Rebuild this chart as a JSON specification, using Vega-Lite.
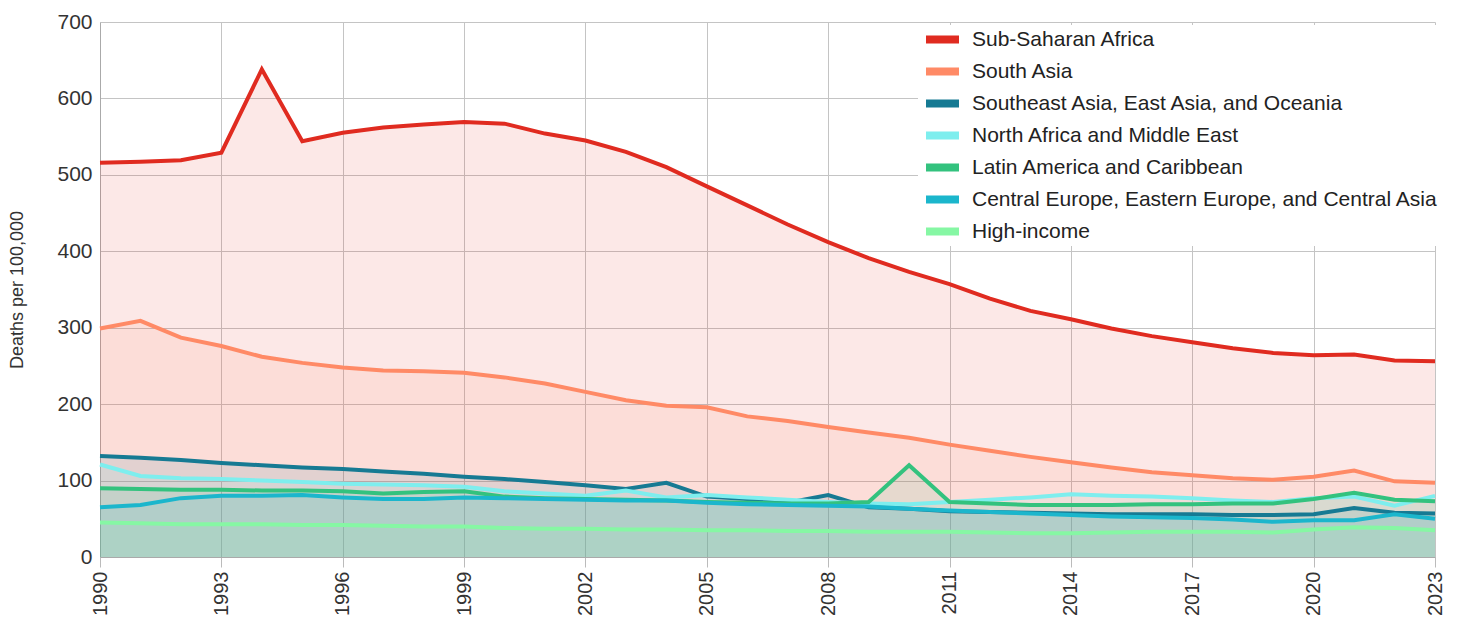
{
  "$schema": "https://vega.github.io/schema/vega-lite/v6.json",
  "width": 1335,
  "height": 535,
  "autosize": {"type": "none"},
  "padding": {"left": 100, "top": 22, "right": 22, "bottom": 63},
  "background": "white",
  "config": {"font": "Liberation Sans", "view": {"stroke": null}},
  "data": {"values": [
    {"year":1990,"region":"Sub-Saharan Africa","value":516},{"year":1991,"region":"Sub-Saharan Africa","value":517},{"year":1992,"region":"Sub-Saharan Africa","value":519},{"year":1993,"region":"Sub-Saharan Africa","value":529},{"year":1994,"region":"Sub-Saharan Africa","value":638},{"year":1995,"region":"Sub-Saharan Africa","value":544},{"year":1996,"region":"Sub-Saharan Africa","value":555},{"year":1997,"region":"Sub-Saharan Africa","value":562},{"year":1998,"region":"Sub-Saharan Africa","value":566},{"year":1999,"region":"Sub-Saharan Africa","value":569},{"year":2000,"region":"Sub-Saharan Africa","value":567},{"year":2001,"region":"Sub-Saharan Africa","value":554},{"year":2002,"region":"Sub-Saharan Africa","value":545},{"year":2003,"region":"Sub-Saharan Africa","value":530},{"year":2004,"region":"Sub-Saharan Africa","value":510},{"year":2005,"region":"Sub-Saharan Africa","value":485},{"year":2006,"region":"Sub-Saharan Africa","value":460},{"year":2007,"region":"Sub-Saharan Africa","value":435},{"year":2008,"region":"Sub-Saharan Africa","value":412},{"year":2009,"region":"Sub-Saharan Africa","value":391},{"year":2010,"region":"Sub-Saharan Africa","value":373},{"year":2011,"region":"Sub-Saharan Africa","value":357},{"year":2012,"region":"Sub-Saharan Africa","value":338},{"year":2013,"region":"Sub-Saharan Africa","value":322},{"year":2014,"region":"Sub-Saharan Africa","value":311},{"year":2015,"region":"Sub-Saharan Africa","value":299},{"year":2016,"region":"Sub-Saharan Africa","value":289},{"year":2017,"region":"Sub-Saharan Africa","value":281},{"year":2018,"region":"Sub-Saharan Africa","value":273},{"year":2019,"region":"Sub-Saharan Africa","value":267},{"year":2020,"region":"Sub-Saharan Africa","value":264},{"year":2021,"region":"Sub-Saharan Africa","value":265},{"year":2022,"region":"Sub-Saharan Africa","value":257},{"year":2023,"region":"Sub-Saharan Africa","value":256},
    {"year":1990,"region":"South Asia","value":299},{"year":1991,"region":"South Asia","value":309},{"year":1992,"region":"South Asia","value":287},{"year":1993,"region":"South Asia","value":276},{"year":1994,"region":"South Asia","value":262},{"year":1995,"region":"South Asia","value":254},{"year":1996,"region":"South Asia","value":248},{"year":1997,"region":"South Asia","value":244},{"year":1998,"region":"South Asia","value":243},{"year":1999,"region":"South Asia","value":241},{"year":2000,"region":"South Asia","value":235},{"year":2001,"region":"South Asia","value":227},{"year":2002,"region":"South Asia","value":216},{"year":2003,"region":"South Asia","value":205},{"year":2004,"region":"South Asia","value":198},{"year":2005,"region":"South Asia","value":196},{"year":2006,"region":"South Asia","value":184},{"year":2007,"region":"South Asia","value":178},{"year":2008,"region":"South Asia","value":170},{"year":2009,"region":"South Asia","value":163},{"year":2010,"region":"South Asia","value":156},{"year":2011,"region":"South Asia","value":147},{"year":2012,"region":"South Asia","value":139},{"year":2013,"region":"South Asia","value":131},{"year":2014,"region":"South Asia","value":124},{"year":2015,"region":"South Asia","value":117},{"year":2016,"region":"South Asia","value":111},{"year":2017,"region":"South Asia","value":107},{"year":2018,"region":"South Asia","value":103},{"year":2019,"region":"South Asia","value":101},{"year":2020,"region":"South Asia","value":105},{"year":2021,"region":"South Asia","value":113},{"year":2022,"region":"South Asia","value":99},{"year":2023,"region":"South Asia","value":97},
    {"year":1990,"region":"Southeast Asia, East Asia, and Oceania","value":132},{"year":1991,"region":"Southeast Asia, East Asia, and Oceania","value":130},{"year":1992,"region":"Southeast Asia, East Asia, and Oceania","value":127},{"year":1993,"region":"Southeast Asia, East Asia, and Oceania","value":123},{"year":1994,"region":"Southeast Asia, East Asia, and Oceania","value":120},{"year":1995,"region":"Southeast Asia, East Asia, and Oceania","value":117},{"year":1996,"region":"Southeast Asia, East Asia, and Oceania","value":115},{"year":1997,"region":"Southeast Asia, East Asia, and Oceania","value":112},{"year":1998,"region":"Southeast Asia, East Asia, and Oceania","value":109},{"year":1999,"region":"Southeast Asia, East Asia, and Oceania","value":105},{"year":2000,"region":"Southeast Asia, East Asia, and Oceania","value":102},{"year":2001,"region":"Southeast Asia, East Asia, and Oceania","value":98},{"year":2002,"region":"Southeast Asia, East Asia, and Oceania","value":94},{"year":2003,"region":"Southeast Asia, East Asia, and Oceania","value":89},{"year":2004,"region":"Southeast Asia, East Asia, and Oceania","value":97},{"year":2005,"region":"Southeast Asia, East Asia, and Oceania","value":79},{"year":2006,"region":"Southeast Asia, East Asia, and Oceania","value":76},{"year":2007,"region":"Southeast Asia, East Asia, and Oceania","value":71},{"year":2008,"region":"Southeast Asia, East Asia, and Oceania","value":81},{"year":2009,"region":"Southeast Asia, East Asia, and Oceania","value":65},{"year":2010,"region":"Southeast Asia, East Asia, and Oceania","value":63},{"year":2011,"region":"Southeast Asia, East Asia, and Oceania","value":60},{"year":2012,"region":"Southeast Asia, East Asia, and Oceania","value":59},{"year":2013,"region":"Southeast Asia, East Asia, and Oceania","value":58},{"year":2014,"region":"Southeast Asia, East Asia, and Oceania","value":57},{"year":2015,"region":"Southeast Asia, East Asia, and Oceania","value":56},{"year":2016,"region":"Southeast Asia, East Asia, and Oceania","value":56},{"year":2017,"region":"Southeast Asia, East Asia, and Oceania","value":56},{"year":2018,"region":"Southeast Asia, East Asia, and Oceania","value":55},{"year":2019,"region":"Southeast Asia, East Asia, and Oceania","value":55},{"year":2020,"region":"Southeast Asia, East Asia, and Oceania","value":56},{"year":2021,"region":"Southeast Asia, East Asia, and Oceania","value":64},{"year":2022,"region":"Southeast Asia, East Asia, and Oceania","value":58},{"year":2023,"region":"Southeast Asia, East Asia, and Oceania","value":57},
    {"year":1990,"region":"North Africa and Middle East","value":121},{"year":1991,"region":"North Africa and Middle East","value":106},{"year":1992,"region":"North Africa and Middle East","value":103},{"year":1993,"region":"North Africa and Middle East","value":102},{"year":1994,"region":"North Africa and Middle East","value":100},{"year":1995,"region":"North Africa and Middle East","value":98},{"year":1996,"region":"North Africa and Middle East","value":96},{"year":1997,"region":"North Africa and Middle East","value":95},{"year":1998,"region":"North Africa and Middle East","value":94},{"year":1999,"region":"North Africa and Middle East","value":92},{"year":2000,"region":"North Africa and Middle East","value":86},{"year":2001,"region":"North Africa and Middle East","value":83},{"year":2002,"region":"North Africa and Middle East","value":80},{"year":2003,"region":"North Africa and Middle East","value":87},{"year":2004,"region":"North Africa and Middle East","value":78},{"year":2005,"region":"North Africa and Middle East","value":81},{"year":2006,"region":"North Africa and Middle East","value":78},{"year":2007,"region":"North Africa and Middle East","value":75},{"year":2008,"region":"North Africa and Middle East","value":72},{"year":2009,"region":"North Africa and Middle East","value":70},{"year":2010,"region":"North Africa and Middle East","value":69},{"year":2011,"region":"North Africa and Middle East","value":72},{"year":2012,"region":"North Africa and Middle East","value":75},{"year":2013,"region":"North Africa and Middle East","value":78},{"year":2014,"region":"North Africa and Middle East","value":82},{"year":2015,"region":"North Africa and Middle East","value":80},{"year":2016,"region":"North Africa and Middle East","value":79},{"year":2017,"region":"North Africa and Middle East","value":77},{"year":2018,"region":"North Africa and Middle East","value":74},{"year":2019,"region":"North Africa and Middle East","value":72},{"year":2020,"region":"North Africa and Middle East","value":77},{"year":2021,"region":"North Africa and Middle East","value":79},{"year":2022,"region":"North Africa and Middle East","value":67},{"year":2023,"region":"North Africa and Middle East","value":80},
    {"year":1990,"region":"Latin America and Caribbean","value":90},{"year":1991,"region":"Latin America and Caribbean","value":89},{"year":1992,"region":"Latin America and Caribbean","value":88},{"year":1993,"region":"Latin America and Caribbean","value":88},{"year":1994,"region":"Latin America and Caribbean","value":87},{"year":1995,"region":"Latin America and Caribbean","value":87},{"year":1996,"region":"Latin America and Caribbean","value":86},{"year":1997,"region":"Latin America and Caribbean","value":83},{"year":1998,"region":"Latin America and Caribbean","value":85},{"year":1999,"region":"Latin America and Caribbean","value":86},{"year":2000,"region":"Latin America and Caribbean","value":79},{"year":2001,"region":"Latin America and Caribbean","value":77},{"year":2002,"region":"Latin America and Caribbean","value":76},{"year":2003,"region":"Latin America and Caribbean","value":75},{"year":2004,"region":"Latin America and Caribbean","value":74},{"year":2005,"region":"Latin America and Caribbean","value":72},{"year":2006,"region":"Latin America and Caribbean","value":71},{"year":2007,"region":"Latin America and Caribbean","value":70},{"year":2008,"region":"Latin America and Caribbean","value":70},{"year":2009,"region":"Latin America and Caribbean","value":72},{"year":2010,"region":"Latin America and Caribbean","value":120},{"year":2011,"region":"Latin America and Caribbean","value":72},{"year":2012,"region":"Latin America and Caribbean","value":70},{"year":2013,"region":"Latin America and Caribbean","value":68},{"year":2014,"region":"Latin America and Caribbean","value":68},{"year":2015,"region":"Latin America and Caribbean","value":68},{"year":2016,"region":"Latin America and Caribbean","value":69},{"year":2017,"region":"Latin America and Caribbean","value":69},{"year":2018,"region":"Latin America and Caribbean","value":70},{"year":2019,"region":"Latin America and Caribbean","value":70},{"year":2020,"region":"Latin America and Caribbean","value":76},{"year":2021,"region":"Latin America and Caribbean","value":84},{"year":2022,"region":"Latin America and Caribbean","value":75},{"year":2023,"region":"Latin America and Caribbean","value":73},
    {"year":1990,"region":"Central Europe, Eastern Europe, and Central Asia","value":65},{"year":1991,"region":"Central Europe, Eastern Europe, and Central Asia","value":68},{"year":1992,"region":"Central Europe, Eastern Europe, and Central Asia","value":77},{"year":1993,"region":"Central Europe, Eastern Europe, and Central Asia","value":80},{"year":1994,"region":"Central Europe, Eastern Europe, and Central Asia","value":80},{"year":1995,"region":"Central Europe, Eastern Europe, and Central Asia","value":81},{"year":1996,"region":"Central Europe, Eastern Europe, and Central Asia","value":78},{"year":1997,"region":"Central Europe, Eastern Europe, and Central Asia","value":76},{"year":1998,"region":"Central Europe, Eastern Europe, and Central Asia","value":76},{"year":1999,"region":"Central Europe, Eastern Europe, and Central Asia","value":78},{"year":2000,"region":"Central Europe, Eastern Europe, and Central Asia","value":77},{"year":2001,"region":"Central Europe, Eastern Europe, and Central Asia","value":76},{"year":2002,"region":"Central Europe, Eastern Europe, and Central Asia","value":75},{"year":2003,"region":"Central Europe, Eastern Europe, and Central Asia","value":74},{"year":2004,"region":"Central Europe, Eastern Europe, and Central Asia","value":74},{"year":2005,"region":"Central Europe, Eastern Europe, and Central Asia","value":71},{"year":2006,"region":"Central Europe, Eastern Europe, and Central Asia","value":69},{"year":2007,"region":"Central Europe, Eastern Europe, and Central Asia","value":68},{"year":2008,"region":"Central Europe, Eastern Europe, and Central Asia","value":67},{"year":2009,"region":"Central Europe, Eastern Europe, and Central Asia","value":66},{"year":2010,"region":"Central Europe, Eastern Europe, and Central Asia","value":63},{"year":2011,"region":"Central Europe, Eastern Europe, and Central Asia","value":61},{"year":2012,"region":"Central Europe, Eastern Europe, and Central Asia","value":59},{"year":2013,"region":"Central Europe, Eastern Europe, and Central Asia","value":57},{"year":2014,"region":"Central Europe, Eastern Europe, and Central Asia","value":55},{"year":2015,"region":"Central Europe, Eastern Europe, and Central Asia","value":53},{"year":2016,"region":"Central Europe, Eastern Europe, and Central Asia","value":52},{"year":2017,"region":"Central Europe, Eastern Europe, and Central Asia","value":51},{"year":2018,"region":"Central Europe, Eastern Europe, and Central Asia","value":49},{"year":2019,"region":"Central Europe, Eastern Europe, and Central Asia","value":46},{"year":2020,"region":"Central Europe, Eastern Europe, and Central Asia","value":48},{"year":2021,"region":"Central Europe, Eastern Europe, and Central Asia","value":48},{"year":2022,"region":"Central Europe, Eastern Europe, and Central Asia","value":56},{"year":2023,"region":"Central Europe, Eastern Europe, and Central Asia","value":50},
    {"year":1990,"region":"High-income","value":45},{"year":1991,"region":"High-income","value":44},{"year":1992,"region":"High-income","value":43},{"year":1993,"region":"High-income","value":43},{"year":1994,"region":"High-income","value":43},{"year":1995,"region":"High-income","value":42},{"year":1996,"region":"High-income","value":42},{"year":1997,"region":"High-income","value":41},{"year":1998,"region":"High-income","value":40},{"year":1999,"region":"High-income","value":40},{"year":2000,"region":"High-income","value":38},{"year":2001,"region":"High-income","value":37},{"year":2002,"region":"High-income","value":37},{"year":2003,"region":"High-income","value":36},{"year":2004,"region":"High-income","value":36},{"year":2005,"region":"High-income","value":35},{"year":2006,"region":"High-income","value":35},{"year":2007,"region":"High-income","value":34},{"year":2008,"region":"High-income","value":34},{"year":2009,"region":"High-income","value":33},{"year":2010,"region":"High-income","value":33},{"year":2011,"region":"High-income","value":33},{"year":2012,"region":"High-income","value":32},{"year":2013,"region":"High-income","value":31},{"year":2014,"region":"High-income","value":31},{"year":2015,"region":"High-income","value":32},{"year":2016,"region":"High-income","value":33},{"year":2017,"region":"High-income","value":33},{"year":2018,"region":"High-income","value":33},{"year":2019,"region":"High-income","value":32},{"year":2020,"region":"High-income","value":36},{"year":2021,"region":"High-income","value":39},{"year":2022,"region":"High-income","value":38},{"year":2023,"region":"High-income","value":35}
  ]},
  "encoding": {
    "x": {
      "field": "year", "type": "quantitative",
      "scale": {"domain": [1990, 2023], "nice": false, "zero": false},
      "axis": {
        "title": null, "values": [1990,1993,1996,1999,2002,2005,2008,2011,2014,2017,2020,2023],
        "format": "d", "labelAngle": -90, "labelFontSize": 20, "labelColor": "#333",
        "labelPadding": 4, "tickSize": 10, "tickColor": "#bbbbbb", "domainColor": "#aaaaaa",
        "grid": true, "gridColor": "#c4c4c4", "labelFlush": false, "labelOverlap": false
      }
    },
    "y": {
      "field": "value", "type": "quantitative", "stack": null,
      "scale": {"domain": [0, 700], "nice": false},
      "axis": {
        "title": "Deaths per 100,000", "titleFontSize": 18, "titleFontWeight": "normal",
        "titleColor": "#333", "titlePadding": 30,
        "values": [0,100,200,300,400,500,600,700], "labelFontSize": 21, "labelColor": "#333",
        "ticks": false, "labelPadding": 8, "domain": true, "domainColor": "#aaaaaa",
        "grid": true, "gridColor": "#c4c4c4"
      }
    },
    "color": {
      "field": "region", "type": "nominal",
      "sort": ["Sub-Saharan Africa","South Asia","Southeast Asia, East Asia, and Oceania","North Africa and Middle East","Latin America and Caribbean","Central Europe, Eastern Europe, and Central Asia","High-income"],
      "scale": {
        "domain": ["Sub-Saharan Africa","South Asia","Southeast Asia, East Asia, and Oceania","North Africa and Middle East","Latin America and Caribbean","Central Europe, Eastern Europe, and Central Asia","High-income"],
        "range": ["#e02b20","#ff8a66","#167a93","#7eeeee","#33c27e","#1bb6cc","#86f7a4"]
      },
      "legend": {
        "title": null, "orient": "none", "legendX": 818, "legendY": 3,
        "fillColor": "white", "padding": 4,
        "symbolType": "stroke", "symbolSize": 1089, "symbolStrokeWidth": 8,
        "symbolOpacity": 1, "symbolFillColor": "transparent",
        "clipHeight": 21, "rowPadding": 10, "labelOffset": 9,
        "labelFontSize": 21, "labelColor": "#222", "labelLimit": 600
      }
    }
  },
  "layer": [
    {
      "mark": {"type": "area", "fillOpacity": 0.11}
    },
    {
      "mark": {"type": "line", "strokeWidth": 4, "strokeJoin": "miter"}
    }
  ]
}
